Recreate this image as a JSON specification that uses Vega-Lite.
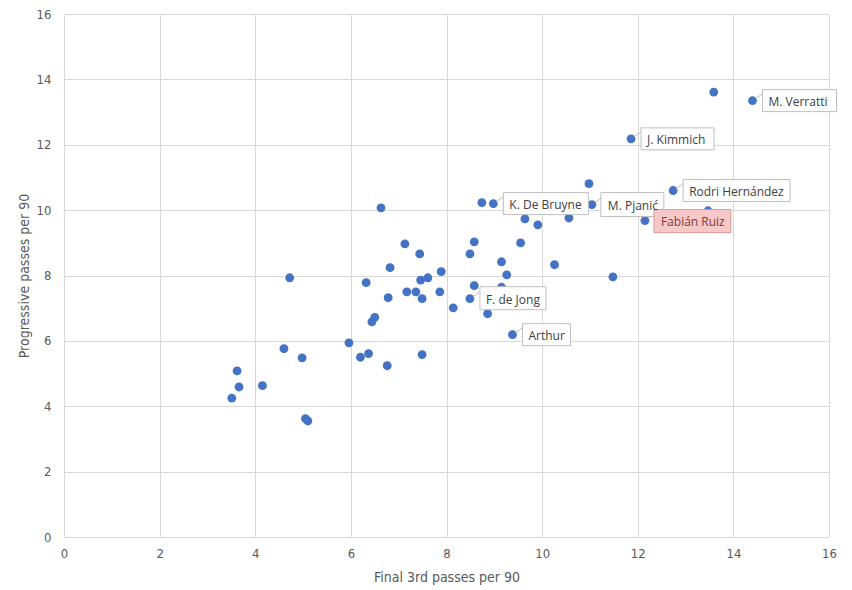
{
  "$schema": "https://vega.github.io/schema/vega-lite/v6.json",
  "width": 765,
  "height": 523,
  "autosize": "none",
  "padding": {"left": 64, "top": 14, "right": 23, "bottom": 53},
  "background": "white",
  "config": {
    "view": {"stroke": null},
    "axis": {
      "labelFont": "Liberation Sans Narrow, DejaVu Sans Condensed, sans-serif",
      "titleFont": "Liberation Sans Narrow, DejaVu Sans Condensed, sans-serif",
      "labelFontSize": 13,
      "titleFontSize": 14,
      "titleFontWeight": "normal",
      "labelColor": "#595959",
      "titleColor": "#595959",
      "gridColor": "#d9d9d9",
      "gridWidth": 1,
      "domain": false,
      "ticks": false,
      "labelFlush": false
    }
  },
  "data": {
    "values": [
      {"x": 3.62, "y": 5.08, "label": ""},
      {"x": 3.66, "y": 4.59, "label": ""},
      {"x": 3.51, "y": 4.25, "label": ""},
      {"x": 4.15, "y": 4.63, "label": ""},
      {"x": 4.60, "y": 5.76, "label": ""},
      {"x": 4.98, "y": 5.48, "label": ""},
      {"x": 5.05, "y": 3.62, "label": ""},
      {"x": 5.10, "y": 3.55, "label": ""},
      {"x": 5.96, "y": 5.94, "label": ""},
      {"x": 6.20, "y": 5.50, "label": ""},
      {"x": 6.37, "y": 5.61, "label": ""},
      {"x": 6.76, "y": 5.24, "label": ""},
      {"x": 7.49, "y": 5.58, "label": ""},
      {"x": 6.63, "y": 10.07, "label": ""},
      {"x": 4.72, "y": 7.93, "label": ""},
      {"x": 7.13, "y": 8.97, "label": ""},
      {"x": 7.44, "y": 8.66, "label": ""},
      {"x": 6.82, "y": 8.24, "label": ""},
      {"x": 6.32, "y": 7.78, "label": ""},
      {"x": 7.46, "y": 7.86, "label": ""},
      {"x": 7.61, "y": 7.93, "label": ""},
      {"x": 7.89, "y": 8.12, "label": ""},
      {"x": 6.78, "y": 7.32, "label": ""},
      {"x": 7.17, "y": 7.50, "label": ""},
      {"x": 7.36, "y": 7.50, "label": ""},
      {"x": 7.49, "y": 7.29, "label": ""},
      {"x": 7.86, "y": 7.50, "label": ""},
      {"x": 6.50, "y": 6.72, "label": ""},
      {"x": 6.44, "y": 6.58, "label": ""},
      {"x": 8.14, "y": 7.01, "label": ""},
      {"x": 8.49, "y": 8.66, "label": ""},
      {"x": 8.58, "y": 9.03, "label": ""},
      {"x": 8.58, "y": 7.69, "label": ""},
      {"x": 8.49, "y": 7.29, "label": "F. de Jong"},
      {"x": 8.86, "y": 6.83, "label": ""},
      {"x": 8.74, "y": 10.23, "label": ""},
      {"x": 8.98, "y": 10.20, "label": "K. De Bruyne"},
      {"x": 9.15, "y": 8.42, "label": ""},
      {"x": 10.98, "y": 10.81, "label": ""},
      {"x": 11.04, "y": 10.17, "label": "M. Pjanić"},
      {"x": 12.74, "y": 10.60, "label": "Rodri Hernández"},
      {"x": 12.15, "y": 9.68, "label": "Fabián Ruiz"},
      {"x": 9.64, "y": 9.73, "label": ""},
      {"x": 9.91, "y": 9.55, "label": ""},
      {"x": 10.56, "y": 9.76, "label": ""},
      {"x": 9.55, "y": 9.00, "label": ""},
      {"x": 10.26, "y": 8.33, "label": ""},
      {"x": 9.26, "y": 8.02, "label": ""},
      {"x": 11.48, "y": 7.96, "label": ""},
      {"x": 9.15, "y": 7.64, "label": ""},
      {"x": 9.38, "y": 6.19, "label": "Arthur"},
      {"x": 13.47, "y": 9.98, "label": ""},
      {"x": 13.59, "y": 13.61, "label": ""},
      {"x": 14.40, "y": 13.35, "label": "M. Verratti"},
      {"x": 11.86, "y": 12.18, "label": "J. Kimmich"}
    ]
  },
  "encoding": {
    "x": {
      "field": "x", "type": "quantitative",
      "scale": {"domain": [0, 16], "nice": false, "zero": false},
      "axis": {"values": [0, 2, 4, 6, 8, 10, 12, 14, 16], "title": "Final 3rd passes per 90", "labelPadding": 10, "titlePadding": 10}
    },
    "y": {
      "field": "y", "type": "quantitative",
      "scale": {"domain": [0, 16], "nice": false, "zero": false},
      "axis": {"values": [0, 2, 4, 6, 8, 10, 12, 14, 16], "title": "Progressive passes per 90", "labelPadding": 13, "titlePadding": 5}
    }
  },
  "layer": [
    {
      "mark": {"type": "circle", "size": 78, "color": "#4472C4", "opacity": 1}
    },
    {
      "transform": [{"filter": "datum.label !== ''"}],
      "mark": {"type": "rule", "color": "#bfbfbf", "strokeWidth": 1, "xOffset": 3, "x2Offset": 10, "yOffset": -2, "y2Offset": -7},
      "encoding": {"x2": {"field": "x"}, "y2": {"field": "y"}}
    },
    {
      "transform": [{"filter": "datum.label === 'M. Verratti'"}],
      "mark": {"type": "rect", "fill": "white", "stroke": "#bfbfbf", "strokeWidth": 1, "xOffset": 10, "x2Offset": 84, "yOffset": -11, "y2Offset": 11},
      "encoding": {"x2": {"field": "x"}, "y2": {"field": "y"}}
    },
    {
      "transform": [{"filter": "datum.label === 'J. Kimmich'"}],
      "mark": {"type": "rect", "fill": "white", "stroke": "#bfbfbf", "strokeWidth": 1, "xOffset": 10, "x2Offset": 83, "yOffset": -11, "y2Offset": 11},
      "encoding": {"x2": {"field": "x"}, "y2": {"field": "y"}}
    },
    {
      "transform": [{"filter": "datum.label === 'Rodri Hernández'"}],
      "mark": {"type": "rect", "fill": "white", "stroke": "#bfbfbf", "strokeWidth": 1, "xOffset": 10, "x2Offset": 117, "yOffset": -11, "y2Offset": 11},
      "encoding": {"x2": {"field": "x"}, "y2": {"field": "y"}}
    },
    {
      "transform": [{"filter": "datum.label === 'M. Pjanić'"}],
      "mark": {"type": "rect", "fill": "white", "stroke": "#bfbfbf", "strokeWidth": 1, "xOffset": 9, "x2Offset": 72, "yOffset": -12, "y2Offset": 12},
      "encoding": {"x2": {"field": "x"}, "y2": {"field": "y"}}
    },
    {
      "transform": [{"filter": "datum.label === 'K. De Bruyne'"}],
      "mark": {"type": "rect", "fill": "white", "stroke": "#bfbfbf", "strokeWidth": 1, "xOffset": 10, "x2Offset": 95, "yOffset": -11, "y2Offset": 11},
      "encoding": {"x2": {"field": "x"}, "y2": {"field": "y"}}
    },
    {
      "transform": [{"filter": "datum.label === 'F. de Jong'"}],
      "mark": {"type": "rect", "fill": "white", "stroke": "#bfbfbf", "strokeWidth": 1, "xOffset": 10, "x2Offset": 76, "yOffset": -12, "y2Offset": 11},
      "encoding": {"x2": {"field": "x"}, "y2": {"field": "y"}}
    },
    {
      "transform": [{"filter": "datum.label === 'Arthur'"}],
      "mark": {"type": "rect", "fill": "white", "stroke": "#bfbfbf", "strokeWidth": 1, "xOffset": 10, "x2Offset": 58, "yOffset": -11, "y2Offset": 11},
      "encoding": {"x2": {"field": "x"}, "y2": {"field": "y"}}
    },
    {
      "transform": [{"filter": "datum.label === 'Fabián Ruiz'"}],
      "mark": {"type": "rect", "fill": "#f8c8c8", "stroke": "#e09a9a", "strokeWidth": 1, "xOffset": 9, "x2Offset": 86, "yOffset": -11, "y2Offset": 12},
      "encoding": {"x2": {"field": "x"}, "y2": {"field": "y"}}
    },
    {
      "transform": [{"filter": "datum.label !== ''"}],
      "mark": {"type": "text", "align": "left", "baseline": "middle", "dx": 16, "dy": 1, "font": "Open Sans", "fontSize": 12},
      "encoding": {
        "text": {"field": "label"},
        "color": {
          "condition": {"test": "datum.label === 'Fabián Ruiz'", "value": "#7b3b3b"},
          "value": "#404040"
        }
      }
    }
  ]
}
